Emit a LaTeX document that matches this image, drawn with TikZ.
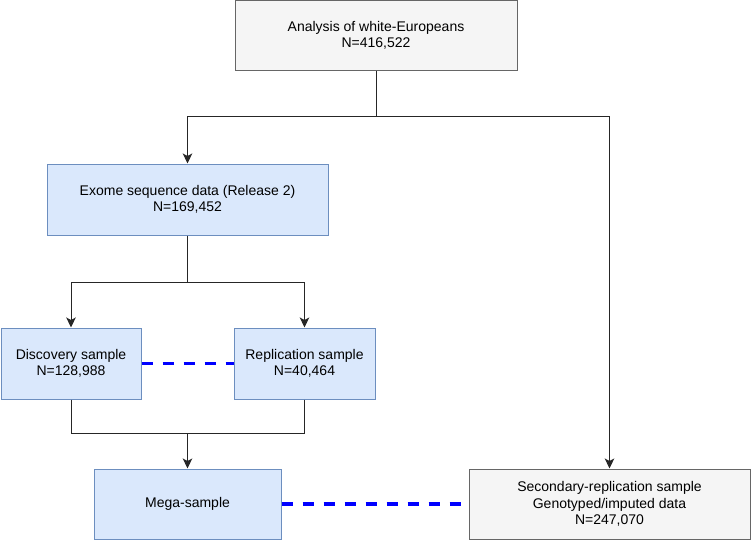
\documentclass[tikz,border=0pt]{standalone}
\usepackage{fontspec}
\setmainfont{Liberation Sans}
\usetikzlibrary{arrows.meta}
\definecolor{bfill}{HTML}{DAE8FC}
\definecolor{bdraw}{HTML}{6C8EBF}
\definecolor{gfill}{HTML}{F5F5F5}
\definecolor{gdraw}{HTML}{666666}
\definecolor{dashblue}{HTML}{0000FF}
\begin{document}
\begin{tikzpicture}[x=1pt,y=-1pt,
  basebox/.style={rectangle, line width=1pt, align=center, inner sep=0pt,
    font=\fontsize{14}{16.5}\selectfont},
  bluebox/.style={basebox, draw=bdraw, fill=bfill},
  graybox/.style={basebox, draw=gdraw, fill=gfill},
  conn/.style={line width=1pt, draw=black!85},
  arrowconn/.style={conn, -{Stealth[length=10pt,width=9.5pt,inset=2.5pt]}},
  dashlink/.style={line width=3.5pt, draw=dashblue, dash pattern=on 11pt off 10pt}
]
\useasboundingbox (0,0) rectangle (751,540);

\node[graybox, minimum width=282pt, minimum height=70pt] (top) at (376,35.5) {Analysis of white-Europeans\\N=416,522};
\node[bluebox, minimum width=281pt, minimum height=71pt] (exome) at (187.5,199.5) {Exome sequence data (Release 2)\\N=169,452};
\node[bluebox, minimum width=140pt, minimum height=71pt] (disc) at (71,363.5) {Discovery sample\\N=128,988};
\node[bluebox, minimum width=141pt, minimum height=71pt] (repl) at (304.5,363.5) {Replication sample\\N=40,464};
\node[bluebox, minimum width=187pt, minimum height=70pt] (mega) at (187.5,504) {Mega-sample};
\node[graybox, minimum width=281pt, minimum height=70pt] (sec) at (609.5,504) {Secondary-replication sample\\Genotyped/imputed data\\N=247,070};

\coordinate (j1) at (376,117);
\coordinate (j2) at (187.5,282);
\coordinate (j3) at (187.5,433);

\draw[conn] (top.south) -- (j1);
\draw[arrowconn] (j1) -| (exome.north);
\draw[arrowconn] (j1) -| (sec.north);
\draw[conn] (exome.south) -- (j2);
\draw[arrowconn] (j2) -| (disc.north);
\draw[arrowconn] (j2) -| (repl.north);
\draw[conn] (disc.south) |- (j3);
\draw[conn] (repl.south) |- (j3);
\draw[arrowconn] (j3) -- (mega.north);

\draw[dashlink] (disc.east) -- (repl.west);
\draw[dashlink] (mega.east) -- (sec.west);
\end{tikzpicture}
\end{document}
